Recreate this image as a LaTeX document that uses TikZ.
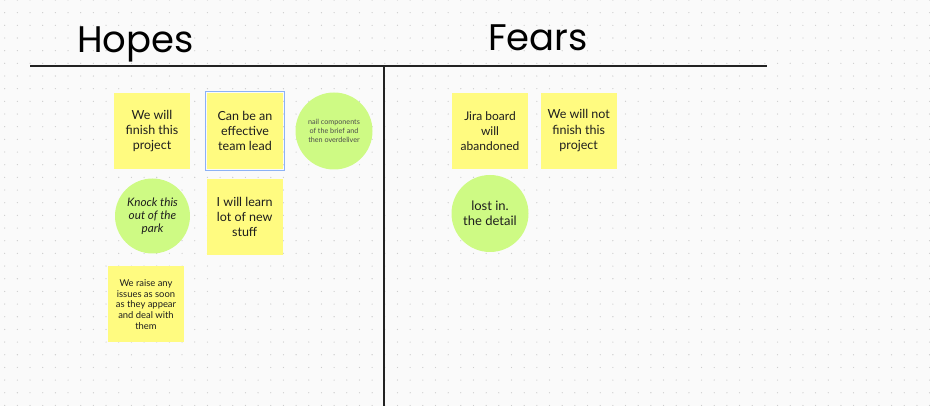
\documentclass[tikz,border=0pt]{standalone}
\usepackage{fontspec}
\setmainfont{Lato}
\newfontfamily\titlefont{Poppins}
\definecolor{bgcolor}{RGB}{250,250,250}
\definecolor{dotcolor}{RGB}{205,205,205}
\definecolor{rulecolor}{RGB}{34,34,34}
\definecolor{noteyellow}{RGB}{255,251,128}
\definecolor{blobgreen}{RGB}{206,250,132}
\definecolor{notetext}{RGB}{30,30,30}
\definecolor{selectblue}{RGB}{140,178,245}
\begin{document}
\begin{tikzpicture}[x=1pt,y=-1pt,
  note/.style={fill=noteyellow, minimum width=76pt, minimum height=76pt,
    inner sep=0pt, align=center, text=notetext,
    font=\fontsize{12.5}{15.3}\selectfont},
  blob/.style={circle, fill=blobgreen, minimum size=77pt, inner sep=0pt,
    align=center, text=notetext},
  heading/.style={anchor=base west, inner sep=0pt, text=black,
    font=\titlefont\fontsize{37}{40}\selectfont},
  rule/.style={line width=2pt, draw=rulecolor},
  selection/.style={draw=selectblue, line width=1pt, minimum size=79pt, inner sep=0pt}]
% canvas and dot grid
\fill[bgcolor] (0,0) rectangle (930,406);
\useasboundingbox (0,0) rectangle (930,406);
\foreach \i in {0,...,73}
  \foreach \j in {0,...,32}
    \fill[dotcolor] (4.7+12.67*\i, 12.67*\j) circle (0.65);
% column headings
\node[heading] (hopes) at (77,53) {Hopes};
\node[heading] (fears) at (488,50.5) {Fears};
% dividing rules
\coordinate (ruleL) at (30,65.7);
\coordinate (ruleR) at (767,65.7);
\coordinate (divTop) at (383.7,65.7);
\coordinate (divBot) at (383.7,406);
\draw[rule] (ruleL) -- (ruleR);
\draw[rule] (divTop) -- (divBot);
% hopes
\node[note] (finish) at (152,131) {We will\\finish this\\project};
\node[note] (lead) at (245,131) {Can be an\\effective\\team lead};
\node[selection] (leadsel) at (lead.center) {};
\node[blob, font=\fontsize{7.2}{9.2}\selectfont, text=black!70] (nail) at (334,131)
  {nail components\\of the brief and\\then overdeliver};
\node[blob, minimum size=75pt, font=\itshape\fontsize{11.7}{13.3}\selectfont] (knock) at (152.5,216)
  {Knock this\\out of the\\park};
\node[note] (learn) at (244.7,216.8) {I will learn\\lot of new\\stuff};
\node[note, font=\fontsize{9.4}{10.6}\selectfont] (raise) at (146,304.5)
  {We raise any\\issues as soon\\as they appear\\and deal with\\them};
% fears
\node[note, font=\fontsize{12}{15}\selectfont] (jira) at (490,130.8) {Jira board\\will\\abandoned};
\node[note] (notfinish) at (578.7,130.8) {We will not\\finish this\\project};
\node[blob, font=\fontsize{13}{15}\selectfont] (lost) at (490,213.5) {lost in.\\the detail};
\end{tikzpicture}
\end{document}
